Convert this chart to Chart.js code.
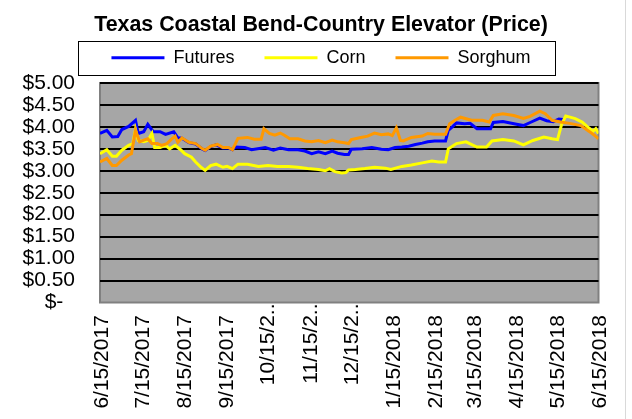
<!DOCTYPE html>
<html>
<head>
<script src="https://cdn.jsdelivr.net/npm/chart.js"></script>
<style>
  body { margin: 0; background: #fff; }
  #wrap { width: 632px; height: 419px; }
</style>
</head>
<body>
<div id="wrap"><canvas id="myChart"></canvas></div>
<script>
// days counted from 6/15/2017
const tickDays = [0, 30, 61, 92, 122, 153, 183, 214, 245, 273, 304, 334, 365];
const tickLabels = ['6/15/2017', '7/15/2017', '8/15/2017', '9/15/2017', '10/15/2..', '11/15/2..',
  '12/15/2..', '1/15/2018', '2/15/2018', '3/15/2018', '4/15/2018', '5/15/2018', '6/15/2018'];

const futuresDays = [0,5,9,13,16,21,26,28,32,35,39,44,48,54,57,60,65,70,75,77,81,85,90,94,97,99,106,111,121,127,
  132,138,145,150,155,160,165,170,174,179,182,184,192,199,206,211,216,221,226,231,236,240,245,253,255,258,261,267,271,276,
  286,288,295,305,310,315,322,327,332,336,339];
const futuresPrice = [3.85,3.92,3.77,3.78,3.94,4.01,4.15,3.85,3.89,4.06,3.89,3.89,3.83,3.89,3.75,3.74,3.64,3.61,3.49,3.46,
  3.55,3.59,3.52,3.52,3.48,3.54,3.53,3.48,3.53,3.47,3.52,3.48,3.48,3.45,3.39,3.43,3.39,3.45,3.40,3.37,
  3.37,3.49,3.50,3.53,3.49,3.48,3.53,3.54,3.56,3.60,3.63,3.66,3.68,3.68,3.92,4.00,4.09,4.07,4.08,3.96,
  3.96,4.10,4.12,4.06,4.03,4.10,4.20,4.14,4.12,4.18,4.17];

const cornDays = [0,5,9,12,16,21,24,26,28,32,35,38,40,44,48,51,55,59,62,67,70,74,77,81,85,90,93,97,101,108,
  116,123,130,138,145,152,160,165,168,172,177,180,182,187,194,201,209,213,221,228,236,243,248,253,255,258,261,268,276,283,
  287,295,303,310,317,325,331,335,338,341,348,353,357,361,363,365];
const cornPrice = [3.39,3.48,3.33,3.33,3.47,3.58,3.62,3.94,3.69,3.66,3.69,3.85,3.53,3.53,3.58,3.50,3.58,3.48,3.39,3.31,
  3.20,3.08,3.01,3.12,3.15,3.08,3.10,3.05,3.15,3.15,3.10,3.12,3.10,3.10,3.08,3.05,3.03,3.00,3.05,2.98,
  2.95,2.96,3.02,3.03,3.05,3.08,3.06,3.03,3.10,3.13,3.18,3.22,3.20,3.20,3.50,3.56,3.62,3.66,3.54,3.54,
  3.68,3.71,3.68,3.59,3.69,3.77,3.73,3.71,4.06,4.25,4.19,4.11,4.00,3.90,3.96,3.85];

const sorghumDays = [0,5,9,12,16,21,23,26,29,33,35,38,42,45,49,52,55,57,60,65,70,75,77,81,86,90,94,97,101,108,
  113,118,120,124,128,132,135,139,145,150,155,160,165,170,174,179,182,184,191,196,201,206,211,214,217,220,222,228,236,240,
  245,253,256,260,264,272,280,285,288,295,303,310,315,322,326,331,337,344,352,359,362,365];
const sorghumPrice = [3.20,3.28,3.12,3.12,3.24,3.36,3.39,3.92,3.66,3.71,3.73,3.62,3.62,3.58,3.62,3.71,3.79,3.65,3.75,3.65,
  3.62,3.50,3.47,3.56,3.60,3.53,3.53,3.48,3.74,3.76,3.72,3.72,3.96,3.85,3.81,3.86,3.81,3.73,3.73,3.68,
  3.66,3.69,3.64,3.70,3.66,3.64,3.62,3.71,3.76,3.79,3.86,3.82,3.84,3.80,3.98,3.69,3.68,3.76,3.79,3.85,
  3.83,3.83,4.07,4.15,4.22,4.15,4.15,4.11,4.26,4.30,4.26,4.19,4.24,4.36,4.30,4.15,4.11,4.08,4.03,3.88,
  3.81,3.73];

const pts = (days, vals) => days.map((d, i) => ({x: d, y: vals[i]}));
const FONT = 'Arial, "Liberation Sans", sans-serif';

// gray plot area with darker edge, legend frame, outer right edge
const framePlugin = {
  id: 'frame',
  beforeDraw(chart) {
    const {ctx, chartArea: a} = chart;
    ctx.save();
    ctx.fillStyle = '#a6a6a6';
    ctx.fillRect(a.left, a.top, a.width, a.height);
    ctx.strokeStyle = '#808080';
    ctx.lineWidth = 2;
    ctx.strokeRect(a.left, a.top, a.width, a.height);
    ctx.restore();
  },
  afterDraw(chart) {
    const {ctx, legend} = chart;
    const hb = legend.legendHitBoxes;
    const last = hb[hb.length - 1];
    const l = Math.round(hb[0].left - 33) + 0.5;
    const r = Math.round(last.left + last.width + 24) + 0.5;
    const t = Math.round(legend.top + 2) + 0.5;
    ctx.save();
    ctx.strokeStyle = '#000';
    ctx.lineWidth = 1;
    ctx.strokeRect(l, t, r - l, 34);
    ctx.strokeStyle = '#d9d9d9';
    ctx.beginPath();
    ctx.moveTo(625.5, 0);
    ctx.lineTo(625.5, 419);
    ctx.stroke();
    ctx.restore();
  }
};

new Chart(document.getElementById('myChart'), {
  type: 'line',
  data: {
    datasets: [
      { label: 'Futures', data: pts(futuresDays, futuresPrice), borderColor: '#0000ff', backgroundColor: '#0000ff', order: 2 },
      { label: 'Corn', data: pts(cornDays, cornPrice), borderColor: '#ffff00', backgroundColor: '#ffff00', order: 1 },
      { label: 'Sorghum', data: pts(sorghumDays, sorghumPrice), borderColor: '#ff9900', backgroundColor: '#ff9900', order: 0 }
    ]
  },
  options: {
    responsive: true,
    maintainAspectRatio: false,
    animation: false,
    layout: { padding: { left: 10, right: 0, top: 0, bottom: 0 } },
    elements: {
      line: { borderWidth: 3, tension: 0 },
      point: { radius: 0, hoverRadius: 0 }
    },
    plugins: {
      tooltip: { enabled: false },
      title: {
        display: true,
        text: 'Texas Coastal Bend-Country Elevator (Price)',
        color: '#000',
        font: { family: FONT, size: 21.4, weight: 'bold' },
        padding: { top: 12, bottom: 1 }
      },
      legend: {
        display: true,
        labels: {
          color: '#000',
          font: { family: FONT, size: 18 },
          boxWidth: 53,
          boxHeight: 3,
          padding: 10,
          generateLabels: chart => chart.data.datasets.map((ds, i, arr) => ({
            text: ds.label + (i < arr.length - 1 ? '    ' : ''),
            fillStyle: ds.borderColor,
            strokeStyle: ds.borderColor,
            lineWidth: 0,
            hidden: false,
            datasetIndex: i,
            fontColor: '#000'
          }))
        }
      }
    },
    scales: {
      x: {
        type: 'linear',
        min: 0,
        max: 365,
        afterBuildTicks: s => { s.ticks = tickDays.map(v => ({ value: v })); },
        afterFit: s => { s.height = 116.5; },
        grid: { display: false, drawTicks: false },
        border: { display: false },
        ticks: {
          autoSkip: false,
          maxRotation: 90,
          minRotation: 90,
          padding: 1,
          labelOffset: 2,
          color: '#000',
          font: { family: FONT, size: 21 },
          callback: (v, i) => tickLabels[i].endsWith('..') ? tickLabels[i] : tickLabels[i] + '  '
        }
      },
      xTop: {
        type: 'linear',
        position: 'top',
        min: 0,
        max: 1,
        grid: { display: false, drawTicks: false },
        border: { display: false },
        ticks: { display: false },
        afterFit: s => { s.height = 6.3; }
      },
      y: {
        min: 0,
        max: 5,
        afterFit: s => { s.width = 90; },
        grid: {
          color: c => c.tick.value === 0 ? 'rgba(0,0,0,0)' : '#000',
          lineWidth: 2,
          drawTicks: false
        },
        border: { display: false },
        ticks: {
          autoSkip: false,
          stepSize: 0.5,
          padding: 25,
          color: '#000',
          font: { family: FONT, size: 21 },
          callback: v => v === 0 ? '$-  ' : '$' + v.toFixed(2)
        }
      },
      yRight: {
        position: 'right',
        min: 0,
        max: 1,
        grid: { display: false, drawTicks: false },
        border: { display: false },
        ticks: { display: false },
        afterFit: s => { s.width = 33.5; }
      }
    }
  },
  plugins: [framePlugin]
});
</script>
</body>
</html>
